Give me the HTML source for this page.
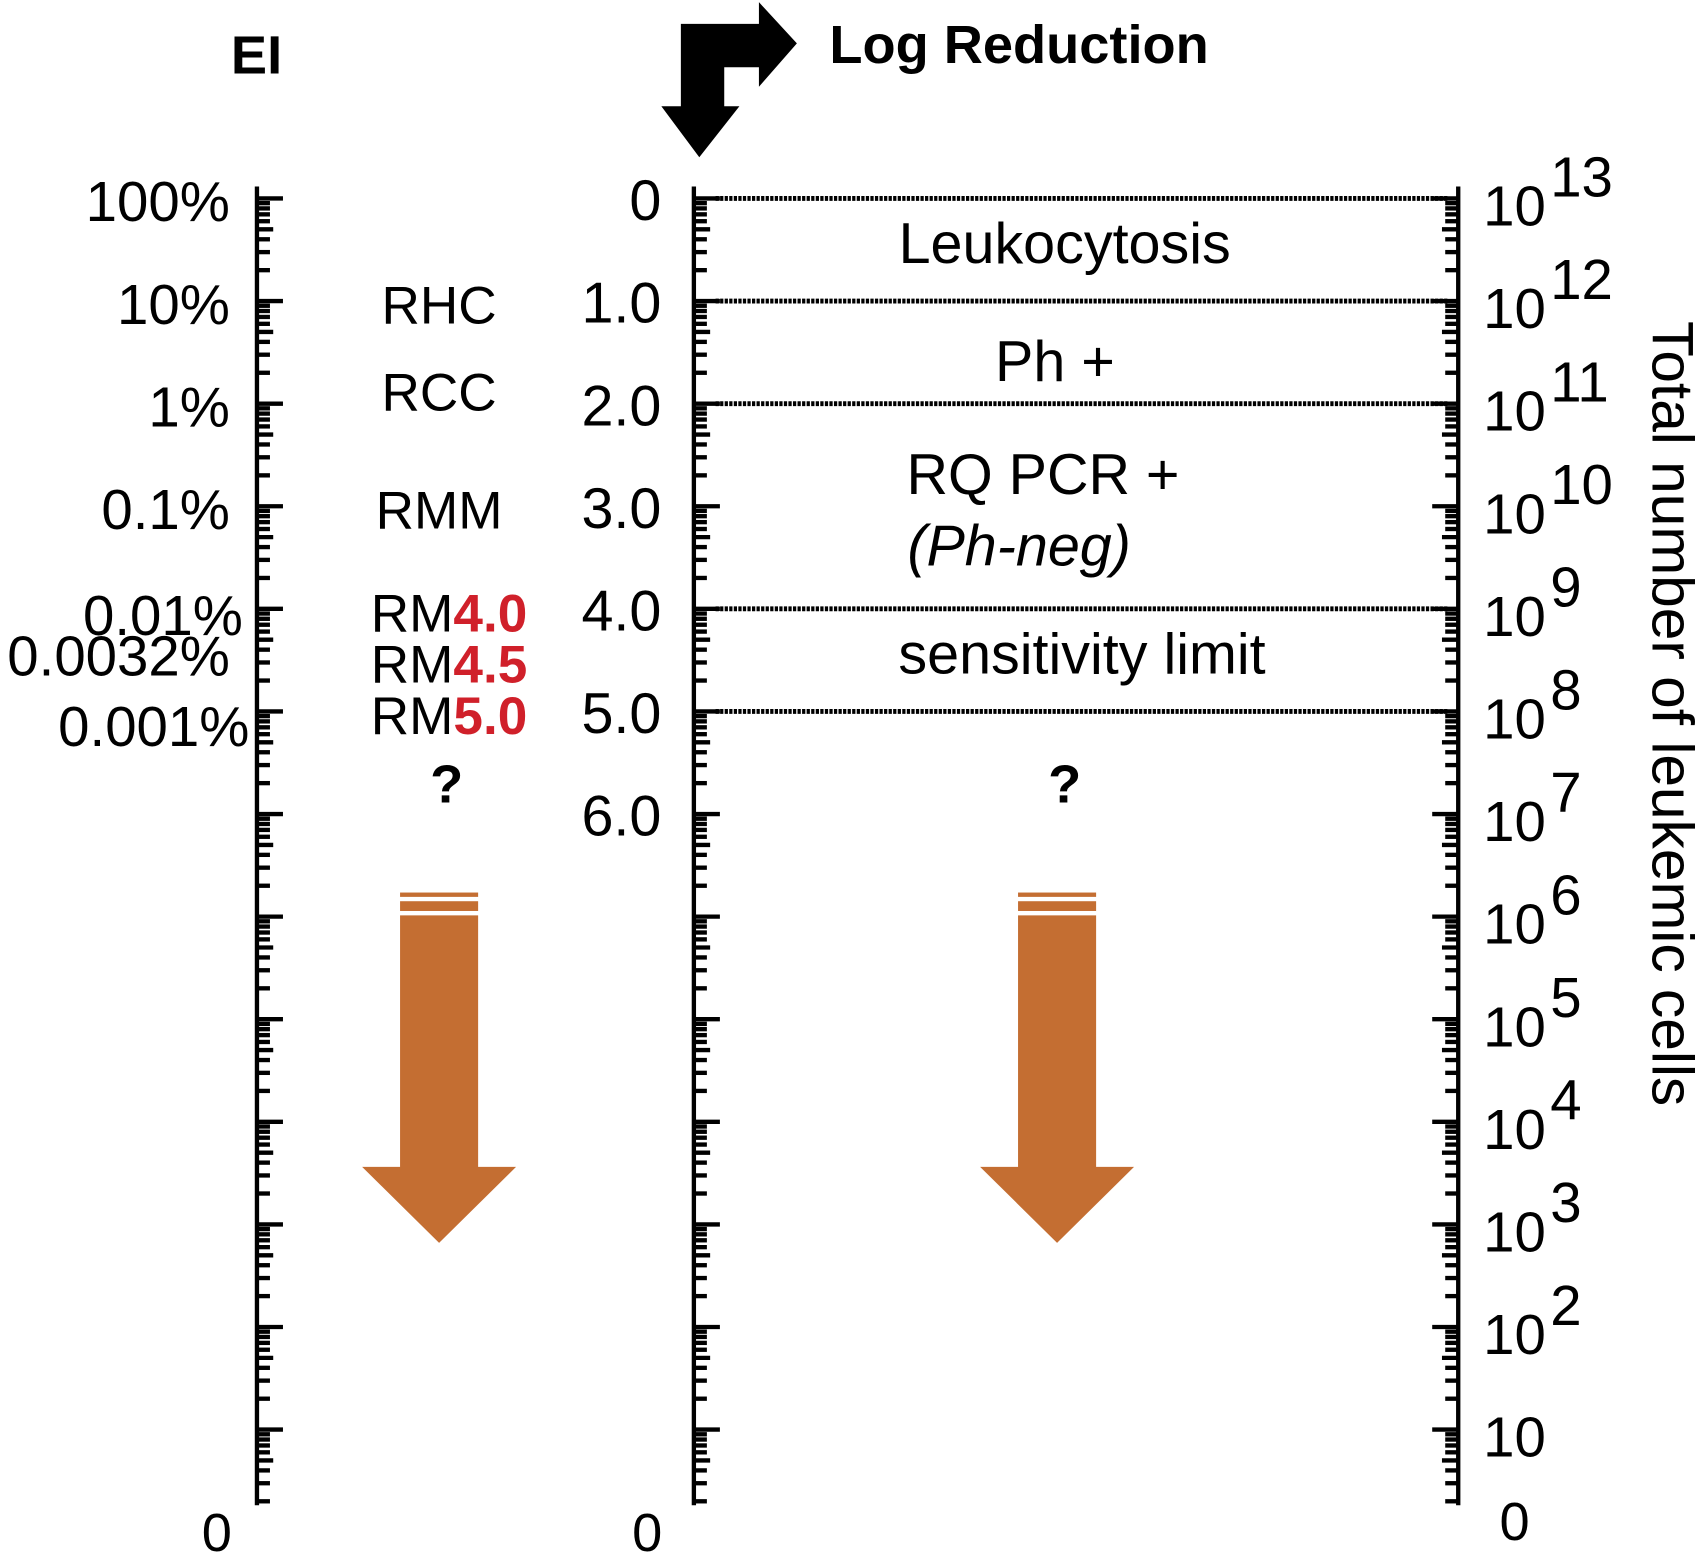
<!DOCTYPE html>
<html><head><meta charset="utf-8"><style>
html,body{margin:0;padding:0;background:#fff}
svg{display:block}
text{font-family:"Liberation Sans",Arial,sans-serif;fill:#000}
</style></head><body>
<svg id="chart" width="1700" height="1553" viewBox="0 0 1568 1432" preserveAspectRatio="none" xmlns="http://www.w3.org/2000/svg">
<text x="213" y="68" font-size="50" font-weight="bold">EI</text>
<text x="765" y="58" font-size="50" font-weight="bold">Log Reduction</text>
<path d="M628,22 L700,22 L700,2 L735,40 L700,80 L700,62 L668,62 L668,98 L682,98 L645,145 L610,98 L628,98 Z" fill="#000"/>
<g id="axes"></g>
<g id="bands"></g>
<g id="labels"></g>
<text x="412" y="740" font-size="50" font-weight="bold" text-anchor="middle">?</text>
<text x="982" y="740" font-size="50" font-weight="bold" text-anchor="middle">?</text>
<g id="orange-arrows"></g>
<text transform="translate(1524,296) rotate(90)" font-size="54" textLength="724" lengthAdjust="spacingAndGlyphs">Total number of leukemic cells</text>
<text x="200" y="1430" font-size="50" text-anchor="middle">0</text>
<text x="597" y="1430" font-size="50" text-anchor="middle">0</text>
<text x="1397" y="1420" font-size="50" text-anchor="middle">0</text>
</svg>
<script>
const decades = [0,1,2,3,4,5,6,7,8,9,10,11,12];
const eiLabels = ["100%","10%","1%","0.1%","0.01%","0.001%"];
const eiLabelDecades = [0,1,2,3,4,5];
const logLabels = ["0","1.0","2.0","3.0","4.0","5.0","6.0"];
const cellExponents = ["13","12","11","10","9","8","7","6","5","4","3","2",""];
const bandBoundaries = [0,1,2,4,5];
const bandNames = ["Leukocytosis","Ph +","RQ PCR +","sensitivity limit"];
const bandNameDecades = [0.45,1.6,2.7,4.45];
const resistLabels = ["RHC","RCC","RMM"];
const resistDecades = [1.05,1.9,3.05];
const rmValues = ["4.0","4.5","5.0"];
const rmDecades = [4.05,4.55,5.05];
const arrowCenters = [405,975];

const NS="http://www.w3.org/2000/svg";
const Y0=183, DEC=94.6;
function y(d){return Y0+d*DEC;}
function mk(tag,attrs,parent,txt){const e=document.createElementNS(NS,tag);for(const k in attrs)e.setAttribute(k,attrs[k]);if(txt!==undefined)e.textContent=txt;parent.appendChild(e);return e;}
const axes=document.getElementById('axes');
const axisXs=[237,640,1345], dirs=[1,1,-1], names=['ei-axis','log-axis','cells-axis'];
axisXs.forEach((ax,i)=>{
  const l=mk('line',{x1:ax,y1:172,x2:ax,y2:1388,stroke:'#000','stroke-width':4},axes);
  
  
  decades.forEach(d=>{
    const t=mk('line',{x1:ax,y1:y(d),x2:ax+dirs[i]*24,y2:y(d),stroke:'#000','stroke-width':4},axes);
    
    
    for(let m=9;m>=2;m--){
      const yy=y(d)+(1-Math.log10(m))*DEC;
      if(yy>1386) continue;
      const mt=mk('line',{x1:ax,y1:yy,x2:ax+dirs[i]*(m===5?15:12),y2:yy,stroke:'#000','stroke-width':4},axes);
      
      
    }
  });
});
const bands=document.getElementById('bands');
bandBoundaries.forEach(b=>{
  const l=mk('line',{x1:660,y1:y(b),x2:1335,y2:y(b),stroke:'#000','stroke-width':4.5,'stroke-dasharray':'3 1.2'},bands);
  
  
});
const lab=document.getElementById('labels');
eiLabels.forEach((s,i)=>{
  const d=eiLabelDecades[i];
  const t=mk('text',{x:212,y:y(d)+21,'font-size':52,'text-anchor':'end'},lab,s);
  if(s==="0.01%"){t.setAttribute('x',224);t.setAttribute('y',y(d)+24);}
  if(s==="0.001%"){t.setAttribute('x',230);t.setAttribute('y',y(d)+32);}
  
  
});
const t32=mk('text',{x:212,y:y(4.5)+14,'font-size':52,'text-anchor':'end'},lab,"0.0032%");


logLabels.forEach((s,i)=>{
  const t=mk('text',{x:610,y:y(i)+20,'font-size':53,'text-anchor':'end'},lab,s);
  
  
});
cellExponents.forEach((e,i)=>{
  const t=mk('text',{x:1368,y:y(i)+25,'font-size':52},lab);
  mk('tspan',{},t,"10");
  if(e!==""){mk('tspan',{dy:-27,'font-size':52,dx:4},t,e);}
  
  
});
bandNames.forEach((s,i)=>{
  const cx=[982,973,962,998][i];
  const t=mk('text',{x:cx,y:y(bandNameDecades[i])+17,'font-size':53,'text-anchor':'middle'},lab,s);
  
  
});
const pn=mk('text',{x:940,y:y(3.4)+17,'font-size':53,'text-anchor':'middle','font-style':'italic'},lab,"(Ph-neg)");


resistLabels.forEach((s,i)=>{
  const t=mk('text',{x:405,y:y(resistDecades[i])+16,'font-size':49,'text-anchor':'middle'},lab,s);
  
  
});
rmValues.forEach((v,i)=>{
  const t=mk('text',{x:342,y:y(rmDecades[i])+16,'font-size':49},lab);
  mk('tspan',{},t,"RM");
  mk('tspan',{fill:'#d0202a','font-weight':'bold'},t,v);
  
  
});
const oa=document.getElementById('orange-arrows');
arrowCenters.forEach(c=>{
  const g=mk('g',{fill:'#c46e32'},oa);
  
  
  mk('rect',{x:c-36,y:823,width:72,height:4},g);
  mk('rect',{x:c-36,y:831,width:72,height:9},g);
  mk('path',{d:`M${c-36},844 L${c+36},844 L${c+36},1076 L${c+71},1076 L${c},1146 L${c-71},1076 L${c-36},1076 Z`},g);
});
</script>
</body></html>
